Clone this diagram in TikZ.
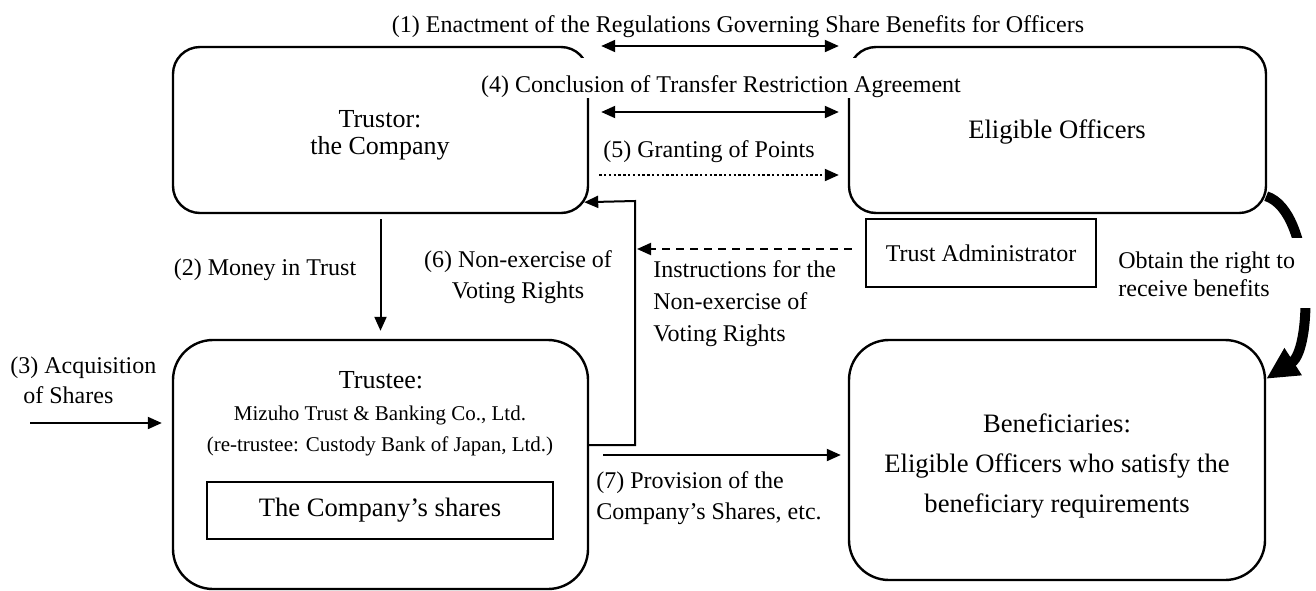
\documentclass[tikz,border=0pt]{standalone}
\usepackage{fontspec}
\setmainfont{Liberation Serif}
\usetikzlibrary{arrows.meta,calc}
\newcommand\lblfont{\fontsize{12}{14}\selectfont}
\newcommand\boxfont{\fontsize{13}{15}\selectfont}
\newcommand\bigboxfont{\fontsize{13.3}{15}\selectfont}
\newcommand\smallboxfont{\fontsize{10.5}{12}\selectfont}
\tikzset{
  rbox/.style={draw, line width=1.2pt, inner sep=0pt},
  sqbox/.style={draw, line width=1.1pt, inner sep=0pt},
  lbl/.style={font=\lblfont, inner sep=0pt},
  btxt/.style={font=\boxfont, inner sep=0pt},
  bbtxt/.style={font=\bigboxfont, inner sep=0pt},
  stxt/.style={font=\smallboxfont, inner sep=0pt},
  arr/.style={line width=1pt, -{Triangle[length=7pt,width=6pt]}},
  dbl/.style={line width=1pt, {Triangle[length=7pt,width=6pt]}-{Triangle[length=7pt,width=6pt]}},
  dotline/.style={dash pattern=on 1.2pt off 1.2pt},
  dashline/.style={dash pattern=on 4pt off 3pt},
  bigarr/.style={line width=5pt, -{Triangle[length=16pt,width=15pt]}}
}
\begin{document}
\begin{tikzpicture}[x=0.5pt,y=-0.5pt]
\useasboundingbox (0,0) rectangle (1316,590);

% boxes
\node[rbox, rounded corners=13.5pt, minimum width=207.5pt, minimum height=83pt] (trustor) at (380.5,130) {};
\node[rbox, rounded corners=13.5pt, minimum width=208.5pt, minimum height=83pt] (elig) at (1057.5,130) {};
\node[rbox, rounded corners=20pt, minimum width=207.5pt, minimum height=124.5pt] (trustee) at (380.5,464.5) {};
\node[rbox, rounded corners=20pt, minimum width=208pt, minimum height=120pt] (benef) at (1057,460) {};
\node[sqbox, minimum width=173pt, minimum height=28.5pt, font=\bigboxfont] (shares) at (380,510.5) {The Company’s shares};
\node[sqbox, minimum width=115pt, minimum height=34pt, font=\lblfont] (admin) at (981,253) {Trust Administrator};

% box texts
\node[btxt, anchor=base] (tr1) at (380,127) {Trustor:};
\node[btxt, anchor=base] (tr2) at (380,154) {the Company};
\node[bbtxt, anchor=base] (el1) at (1057,138) {Eligible Officers};
\node[btxt, anchor=base] (te1) at (381,388) {Trustee:};
\node[stxt, anchor=base] (te2) at (380,420) {Mizuho Trust \& Banking Co., Ltd.};
\node[stxt, anchor=base] (te3) at (380,451) {(re-trustee: Custody Bank of Japan, Ltd.)};
\node[bbtxt, anchor=base] (be1) at (1057,432) {Beneficiaries:};
\node[bbtxt, anchor=base] (be2) at (1057,472) {Eligible Officers who satisfy the};
\node[bbtxt, anchor=base] (be3) at (1057,512) {beneficiary requirements};

% top labels
\node[lbl, anchor=base] (l1) at (738,32) {(1) Enactment of the Regulations Governing Share Benefits for Officers};
\node[lbl, anchor=base, fill=white, text height=17pt, text depth=3pt, inner xsep=3pt] (l4) at (721,92) {(4) Conclusion of Transfer Restriction Agreement};
\node[lbl, anchor=base west] (l5) at (603,157) {(5) Granting of Points};

% arrows between trustor and eligible officers
\draw[dbl] ($(trustor.east|-0,46)+(12,0)$) -- ($(elig.west|-0,46)+(-9,0)$);
\draw[dbl] ($(trustor.east|-0,112)+(12,0)$) -- ($(elig.west|-0,112)+(-9,0)$);
\draw[arr, dotline] ($(trustor.east|-0,175)+(10,0)$) -- ($(elig.west|-0,175)+(-9,0)$);

% (2) money in trust
\draw[arr] ([yshift=-2.5pt]trustor.south) -- ([yshift=4pt]trustee.north);
\node[lbl, anchor=base] (l2) at (265,275) {(2) Money in Trust};

% (3) acquisition
\coordinate (c3) at (30,423);
\draw[arr] (c3) -- ($(trustee.west|-c3)+(-10,0)$);
\node[lbl, anchor=base west] (l3a) at (10,373) {(3) Acquisition};
\node[lbl, anchor=base west] (l3b) at (23,403) {of Shares};

% (6) non-exercise of voting rights
\coordinate (v6bot) at (635,445);
\coordinate (v6top) at (635,201);
\draw[arr] (trustee.east|-v6bot) -- (v6bot) -- (v6top) -- ($(trustor.south east)+(-5,-12)$);
\node[lbl, anchor=base] (l6a) at (518,267) {(6) Non-exercise of};
\node[lbl, anchor=base] (l6b) at (518,298) {Voting Rights};

% instructions from trust administrator
\draw[arr, dashline] ($(admin.west)+(-13,-4)$) coordinate (d0) -- ($(v6top|-d0)+(2,0)$);
\node[lbl, anchor=base west] (li1) at (653,277) {Instructions for the};
\node[lbl, anchor=base west] (li2) at (653,309) {Non-exercise of};
\node[lbl, anchor=base west] (li3) at (653,341) {Voting Rights};

% (7) provision
\draw[arr] ($(trustee.east|-0,455)+(14,0)$) -- ($(benef.west|-0,455)+(-7,0)$);
\node[lbl, anchor=base west] (l7a) at (596,488) {(7) Provision of the};
\node[lbl, anchor=base west] (l7b) at (596,519) {Company’s Shares, etc.};

% obtain the right
\draw[bigarr] ($(elig.south east)+(-1,-18)$) .. controls +(47,15) and +(47,-30) .. ($(benef.north east)+(0,40)$);
\fill[white] (1112,238) rectangle (1312,308);
\node[lbl, anchor=base west] (lo1) at (1118,268) {Obtain the right to};
\node[lbl, anchor=base west] (lo2) at (1118,296) {receive benefits};
\end{tikzpicture}
\end{document}
